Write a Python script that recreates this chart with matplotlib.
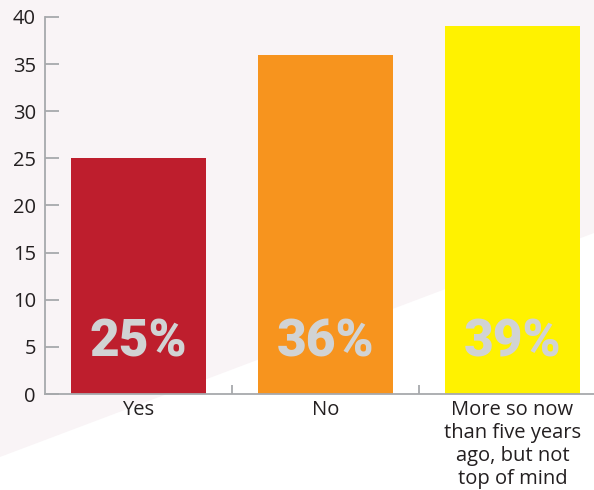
import matplotlib
matplotlib.use("Agg")
import matplotlib.pyplot as plt
from matplotlib.patches import Polygon
from matplotlib.ticker import FixedLocator

categories = ["Yes", "No", "More so now\nthan five years\nago, but not\ntop of mind"]
values = [25, 36, 39]
bar_colors = ["#be1e2d", "#f7941e", "#fff200"]
y_ticks = [0, 5, 10, 15, 20, 25, 30, 35, 40]

W, H = 594, 490
fig = plt.figure(figsize=(W / 100, H / 100), dpi=100)
fig.patch.set_facecolor("white")

# light pink backdrop with a diagonal cut at the lower right
bg = Polygon([(0, 1), (1, 1), (1, 1 - 233 / H), (0, 1 - 457 / H)],
             closed=True, transform=fig.transFigure, facecolor="#f9f4f6",
             edgecolor="none", zorder=-10)
fig.patches.append(bg)

ax = fig.add_axes([45 / W, 96 / H, 561 / W, 377 / H])
ax.set_facecolor("none")
ax.set_zorder(1)

x = list(range(len(categories)))
ax.bar(x, values, width=0.722, color=bar_colors, zorder=2)

for xi, v in zip(x, values):
    ax.text(xi, 3.93, f"{v}%", ha="center", va="baseline",
            fontsize=37, fontweight="black", family="Roboto",
            color="#d1d3d4", zorder=3)

ax.set_xlim(-0.5, 2.5)
ax.set_ylim(0, 40)

grey = "#a7a9ac"
for side in ["top", "right"]:
    ax.spines[side].set_visible(False)
for side in ["left", "bottom"]:
    ax.spines[side].set_color(grey)
    ax.spines[side].set_linewidth(1.3)

ax.set_yticks(y_ticks)
ax.tick_params(axis="y", direction="in", length=10, width=1.3, color=grey,
               pad=6.5, labelsize=14.5, labelcolor="#231f20")

ax.set_xticks(x)
ax.set_xticklabels(categories, fontsize=14.5, color="#231f20", linespacing=1.2)
ax.tick_params(axis="x", which="major", length=0, pad=4.5)
ax.xaxis.set_minor_locator(FixedLocator([0.5, 1.5]))
ax.tick_params(axis="x", which="minor", direction="in", length=6.5,
               width=1.3, color=grey)

for lbl in ax.get_xticklabels() + ax.get_yticklabels():
    lbl.set_family("Open Sans")

fig.savefig("out.png", dpi=100)
